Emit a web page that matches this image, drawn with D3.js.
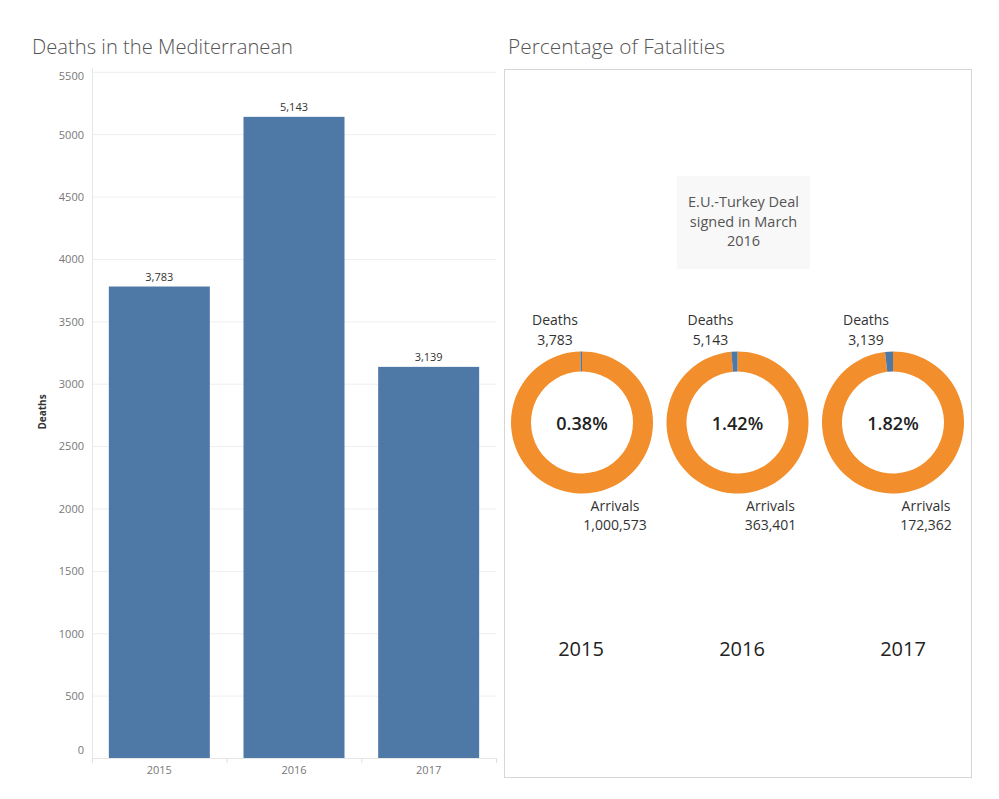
<!DOCTYPE html>
<html>
<head>
<meta charset="utf-8">
<script src="https://cdn.jsdelivr.net/npm/d3@7"></script>
<style>
  html, body { margin: 0; padding: 0; background: #fff; }
  svg { display: block; font-family: "Open Sans", "Lato", sans-serif; }
</style>
</head>
<body>
<svg id="chart" width="999" height="799"></svg>
<script>
// ---- data ----
const years = ["2015", "2016", "2017"];
const deaths = [3783, 5143, 3139];
const arrivals = [1000573, 363401, 172362];
const yTicks = [0, 500, 1000, 1500, 2000, 2500, 3000, 3500, 4000, 4500, 5000, 5500];
const annotationLines = ["E.U.-Turkey Deal", "signed in March", "2016"];

const svg = d3.select("#chart");
const fmt = d3.format(",");
const blue = "#4e79a7", orange = "#f28e2b";

// ---- left: bar chart ----
svg.append("text").attr("x", 32).attr("y", 54)
  .attr("font-size", 20).attr("fill", "#555").attr("font-weight", 300)
  .attr("textLength", 261).attr("lengthAdjust", "spacingAndGlyphs")
  .text("Deaths in the Mediterranean");

const x = d3.scaleBand().domain(years).range([92, 496]).paddingInner(0.25).paddingOuter(0.125);
const y = d3.scaleLinear().domain([0, 5500]).range([758.5, 72.3]);

// gridlines
svg.append("g").selectAll("line").data(yTicks).join("line")
  .attr("x1", 92).attr("x2", 496)
  .attr("y1", d => y(d)).attr("y2", d => y(d))
  .attr("stroke", "#efefef").attr("stroke-width", 1);

// y axis line
svg.append("line").attr("x1", 92.5).attr("x2", 92.5).attr("y1", 68).attr("y2", 763)
  .attr("stroke", "#e6e6e6");

// y tick labels
svg.append("g").selectAll("text").data(yTicks).join("text")
  .attr("x", 84).attr("text-anchor", "end")
  .attr("y", d => Math.min(Math.max(y(d), 76), 750))
  .attr("dy", "0.35em")
  .attr("font-size", 11).attr("fill", "#777")
  .text(d => d);

// y axis title
svg.append("text")
  .attr("transform", "translate(46,412) rotate(-90)")
  .attr("text-anchor", "middle").attr("font-size", 10).attr("font-weight", 700)
  .attr("fill", "#333").text("Deaths");

// bars
svg.append("g").selectAll("rect").data(years).join("rect")
  .attr("x", d => x(d)).attr("width", x.bandwidth())
  .attr("y", (d, i) => y(deaths[i]))
  .attr("height", (d, i) => y(0) - y(deaths[i]))
  .attr("fill", blue);

// bar labels
svg.append("g").selectAll("text").data(years).join("text")
  .attr("x", d => x(d) + x.bandwidth() / 2)
  .attr("y", (d, i) => y(deaths[i]) - 6)
  .attr("text-anchor", "middle").attr("font-size", 11).attr("fill", "#333")
  .text((d, i) => fmt(deaths[i]));

// x axis
svg.append("line").attr("x1", 92).attr("x2", 496).attr("y1", 758.5).attr("y2", 758.5)
  .attr("stroke", "#e6e6e6");
const bounds = years.map(d => x(d) - x.step() * x.paddingInner() / 2).concat([496]);
bounds[0] = 92;
svg.append("g").selectAll("line").data(bounds).join("line")
  .attr("x1", d => d + 0.5).attr("x2", d => d + 0.5).attr("y1", 758).attr("y2", 763)
  .attr("stroke", "#e0e0e0");
svg.append("g").selectAll("text").data(years).join("text")
  .attr("x", d => x(d) + x.bandwidth() / 2).attr("y", 770).attr("dy", "0.35em")
  .attr("text-anchor", "middle").attr("font-size", 11).attr("fill", "#777")
  .text(d => d);

// ---- right: donuts ----
svg.append("text").attr("x", 508).attr("y", 54)
  .attr("font-size", 20).attr("fill", "#555").attr("font-weight", 300)
  .attr("textLength", 217).attr("lengthAdjust", "spacingAndGlyphs")
  .text("Percentage of Fatalities");

svg.append("rect").attr("x", 504.5).attr("y", 69.5).attr("width", 467).attr("height", 708)
  .attr("fill", "none").attr("stroke", "#d6d6d6");

// annotation
svg.append("rect").attr("x", 677).attr("y", 176).attr("width", 133).attr("height", 93)
  .attr("fill", "#f8f8f8");
svg.append("g").selectAll("text").data(annotationLines).join("text")
  .attr("x", 743.5).attr("y", (d, i) => 202 + i * 19.5).attr("dy", "0.35em")
  .attr("text-anchor", "middle").attr("font-size", 14.5).attr("fill", "#555")
  .text(d => d);

const cx = d3.scalePoint().domain(years).range([582, 893]);
const yearX = d3.scalePoint().domain(years).range([581, 903]);
const cy = 422.5;
const arc = d3.arc().innerRadius(51).outerRadius(71);
const pie = d3.pie().sort(null).value(d => d.v);

years.forEach((yr, i) => {
  const g = svg.append("g").attr("transform", `translate(${cx(yr)},${cy})`);
  const slices = pie([{k: "Arrivals", v: arrivals[i]}, {k: "Deaths", v: deaths[i]}]);
  g.selectAll("path").data(slices).join("path")
    .attr("d", arc)
    .attr("fill", d => d.data.k === "Deaths" ? blue : orange);
  g.append("text").attr("y", 1).attr("dy", "0.35em").attr("text-anchor", "middle")
    .attr("font-size", 18).attr("font-weight", 600).attr("fill", "#222")
    .text(d3.format(".2%")(deaths[i] / arrivals[i]));
  g.append("text").attr("x", -27).attr("y", -102.5).attr("dy", "0.35em")
    .attr("text-anchor", "middle").attr("font-size", 14).attr("fill", "#333").text("Deaths");
  g.append("text").attr("x", -27).attr("y", -82.5).attr("dy", "0.35em")
    .attr("text-anchor", "middle").attr("font-size", 14).attr("fill", "#333").text(fmt(deaths[i]));
  g.append("text").attr("x", 33).attr("y", 83.5).attr("dy", "0.35em")
    .attr("text-anchor", "middle").attr("font-size", 14).attr("fill", "#333").text("Arrivals");
  g.append("text").attr("x", 33).attr("y", 103).attr("dy", "0.35em")
    .attr("text-anchor", "middle").attr("font-size", 14).attr("fill", "#333").text(fmt(arrivals[i]));
  svg.append("text").attr("x", yearX(yr)).attr("y", 649).attr("dy", "0.35em")
    .attr("text-anchor", "middle").attr("font-size", 20).attr("font-weight", 500).attr("fill", "#222")
    .text(yr);
});
</script>
</body>
</html>
